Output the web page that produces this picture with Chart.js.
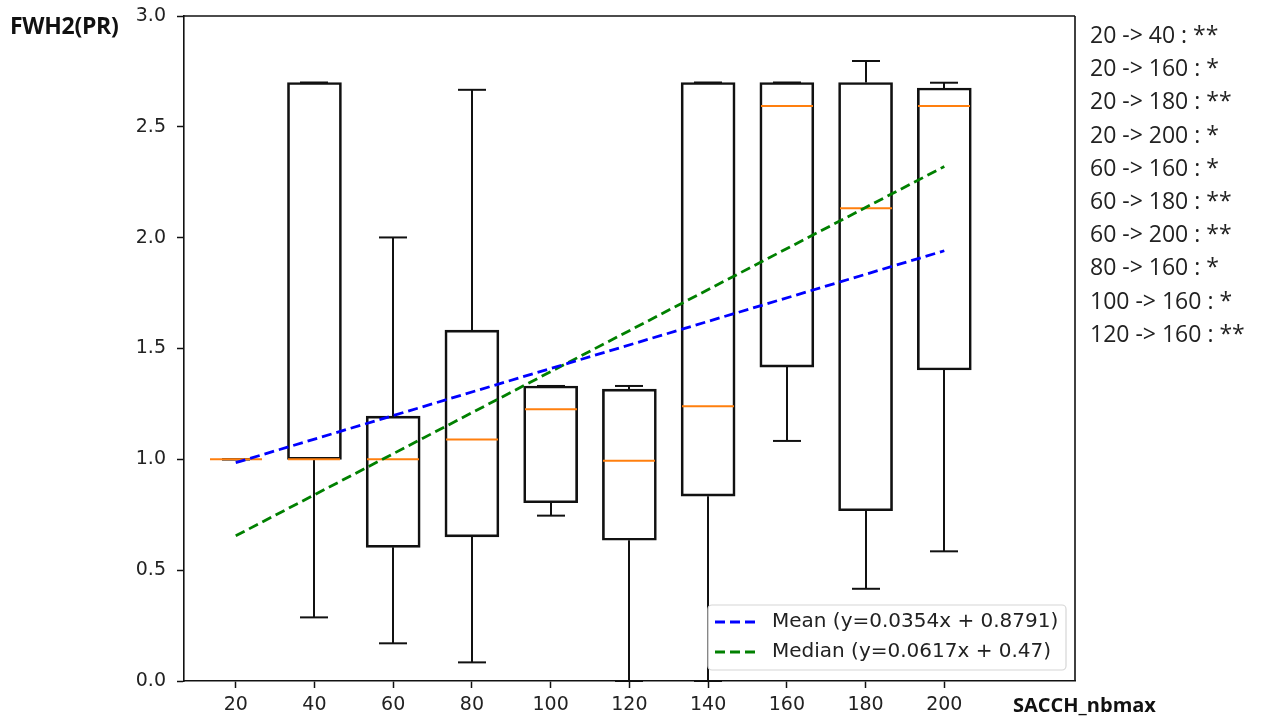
<!DOCTYPE html>
<html>
<head>
<meta charset="utf-8">
<script src="https://cdn.jsdelivr.net/npm/chart.js@4.4.1/dist/chart.umd.min.js"></script>
<style>
  html, body { margin: 0; padding: 0; background: #fff; }
  #wrap { position: relative; width: 1264px; height: 722px; overflow: hidden; }
  #chart { position: absolute; left: 0; top: 0; }
  .label { position: absolute; font-family: "Open Sans", sans-serif; color: #111; white-space: nowrap; }
  #ylabel { left: 10px; top: 8px; font-size: 23px; font-weight: bold; line-height: 34px; letter-spacing: -0.3px; }
  #xlabel { left: 1013px; top: 689px; font-size: 20px; font-weight: bold; line-height: 32px; }
  #notes { left: 1090px; top: 18px; font-size: 23px; line-height: 33.2px; color: #222; }
</style>
</head>
<body>
<div id="wrap">
  <canvas id="chart" width="1264" height="722"></canvas>
  <div class="label" id="ylabel">FWH2(PR)</div>
  <div class="label" id="xlabel">SACCH_nbmax</div>
  <div class="label" id="notes"></div>
</div>
<script>
// Box plot data, one entry per SACCH_nbmax category
const categories = ['20', '40', '60', '80', '100', '120', '140', '160', '180', '200'];
const q1 = [1.0, 1.0, 0.603, 0.650, 0.804, 0.635, 0.834, 1.416, 0.768, 1.403];
const q3 = [1.0, 2.7, 1.195, 1.583, 1.331, 1.317, 2.700, 2.700, 2.700, 2.675];
const medians = [1.0, 1.0, 1.0, 1.090, 1.226, 0.994, 1.240, 2.594, 2.133, 2.594];
const whiskerLow = [1.0, 0.287, 0.170, 0.084, 0.746, 0.0, 0.0, 1.083, 0.416, 0.585];
const whiskerHigh = [1.0, 2.7, 2.001, 2.667, 1.331, 1.331, 2.700, 2.700, 2.797, 2.699];

// Trend lines, value at first and last category
const meanTrend = [0.985, 1.941];
const medianTrend = [0.655, 2.321];
const meanLabel = 'Mean (y=0.0354x + 0.8791)';
const medianLabel = 'Median (y=0.0617x + 0.47)';

const yTicks = [0, 0.5, 1.0, 1.5, 2.0, 2.5, 3.0];

const notes = [
  '20 -> 40 : **', '20 -> 160 : *', '20 -> 180 : **', '20 -> 200 : *',
  '60 -> 160 : *', '60 -> 180 : **', '60 -> 200 : **', '80 -> 160 : *',
  '100 -> 160 : *', '120 -> 160 : **',
];
document.getElementById('notes').innerHTML = notes.join('<br>');

const positions = categories.map((_c, i) => i + 1);
const last = positions.length;

const BOX_W = 54;
const CAP_W = 28;
const TICK_FONT = { family: 'DejaVu Sans', size: 19 };

function seg(ctx, x0, y0, x1, y1) {
  ctx.beginPath();
  ctx.moveTo(x0, y0);
  ctx.lineTo(x1, y1);
  ctx.stroke();
}

const boxParts = {
  id: 'boxParts',
  beforeDatasetsDraw(chart) {
    const { ctx, scales: { x, y } } = chart;
    ctx.save();
    ctx.strokeStyle = '#111';
    ctx.lineWidth = 2;
    positions.forEach((pos, i) => {
      const px = Math.round(x.getPixelForValue(pos));
      const yq1 = y.getPixelForValue(q1[i]);
      const yq3 = y.getPixelForValue(q3[i]);
      const ylo = y.getPixelForValue(whiskerLow[i]);
      const yhi = y.getPixelForValue(whiskerHigh[i]);
      seg(ctx, px, yq1, px, ylo);
      seg(ctx, px, yq3, px, yhi);
      seg(ctx, px - CAP_W / 2, ylo, px + CAP_W / 2, ylo);
      seg(ctx, px - CAP_W / 2, yhi, px + CAP_W / 2, yhi);
    });
    ctx.restore();
  },
  afterDatasetDraw(chart, args) {
    if (args.meta.type !== 'bar') return;
    const { ctx, scales: { x, y } } = chart;
    ctx.save();
    ctx.strokeStyle = '#ff7f0e';
    ctx.lineWidth = 2;
    positions.forEach((pos, i) => {
      const px = Math.round(x.getPixelForValue(pos));
      const ym = y.getPixelForValue(medians[i]);
      seg(ctx, px - BOX_W / 2 + 1, ym, px + BOX_W / 2 - 1, ym);
    });
    ctx.restore();
  },
  afterDraw(chart) {
    const { ctx, chartArea: a } = chart;
    ctx.save();
    // frame (top and right spines)
    ctx.strokeStyle = '#111';
    ctx.lineWidth = 1.6;
    seg(ctx, a.left, a.top, a.right, a.top);
    seg(ctx, a.right, a.top, a.right, a.bottom);

    // legend, lower right
    const w = 358, h = 65;
    const lx = a.right - 9 - w, ly = a.bottom - 11 - h;
    ctx.fillStyle = 'rgba(255,255,255,0.8)';
    ctx.strokeStyle = '#d6d6d6';
    ctx.lineWidth = 1.2;
    ctx.beginPath();
    ctx.roundRect(lx, ly, w, h, 4);
    ctx.fill();
    ctx.stroke();
    ctx.font = '20px "DejaVu Sans"';
    ctx.textBaseline = 'middle';
    chart.data.datasets.filter(d => d.type === 'line').forEach((d, k) => {
      const cy = ly + 17 + k * 30;
      ctx.strokeStyle = d.borderColor;
      ctx.lineWidth = d.borderWidth;
      ctx.setLineDash(d.borderDash);
      seg(ctx, lx + 7, cy, lx + 49, cy);
      ctx.setLineDash([]);
      ctx.fillStyle = '#222';
      ctx.fillText(d.label, lx + 64, cy);
    });
    ctx.restore();
  },
};

new Chart(document.getElementById('chart'), {
  type: 'line',
  data: {
    datasets: [
      {
        type: 'line',
        label: meanLabel,
        data: [{ x: 1, y: meanTrend[0] }, { x: last, y: meanTrend[1] }],
        borderColor: '#0000ff',
        borderWidth: 2.8,
        borderDash: [10, 5],
        pointRadius: 0,
        order: 0,
      },
      {
        type: 'line',
        label: medianLabel,
        data: [{ x: 1, y: medianTrend[0] }, { x: last, y: medianTrend[1] }],
        borderColor: '#008000',
        borderWidth: 2.8,
        borderDash: [10, 5],
        pointRadius: 0,
        order: 0,
      },
      {
        type: 'bar',
        label: 'boxes',
        data: positions.map((pos, i) => ({ x: pos, y: [q1[i], q3[i]] })),
        backgroundColor: 'rgba(0,0,0,0)',
        borderColor: '#111',
        borderWidth: 2,
        borderSkipped: false,
        barThickness: BOX_W,
        order: 1,
      },
    ],
  },
  options: {
    responsive: false,
    animation: false,
    events: [],
    layout: { padding: { left: 0, top: 16, right: 189, bottom: 0 } },
    plugins: {
      legend: { display: false },
      tooltip: { enabled: false },
    },
    scales: {
      x: {
        type: 'linear',
        offset: false,
        min: 0.343,
        max: 11.66,
        grid: { display: true, drawOnChartArea: false, offset: false, tickLength: 7, color: '#111', tickWidth: 1.5 },
        border: { display: true, color: '#111', width: 1.6 },
        afterBuildTicks(scale) {
          scale.ticks = positions.map(v => ({ value: v }));
        },
        afterFit(scale) {
          scale.height = 41;
          scale.paddingLeft = 0;
          scale.paddingRight = 0;
        },
        ticks: {
          font: TICK_FONT,
          color: '#222',
          padding: 6,
          maxRotation: 0,
          autoSkip: false,
          callback: v => categories[v - 1] ?? '',
        },
      },
      y: {
        type: 'linear',
        min: 0,
        max: 3,
        grid: { display: true, drawOnChartArea: false, tickLength: 7, color: '#111', tickWidth: 1.5 },
        border: { display: true, color: '#111', width: 1.6 },
        afterBuildTicks(scale) {
          scale.ticks = yTicks.map(v => ({ value: v }));
        },
        afterFit(scale) {
          scale.width = 184;
          scale.paddingTop = 0;
          scale.paddingBottom = 0;
        },
        ticks: {
          font: TICK_FONT,
          color: '#222',
          padding: 11,
          callback: v => v.toFixed(1),
        },
      },
    },
  },
  plugins: [boxParts],
});
</script>
</body>
</html>
